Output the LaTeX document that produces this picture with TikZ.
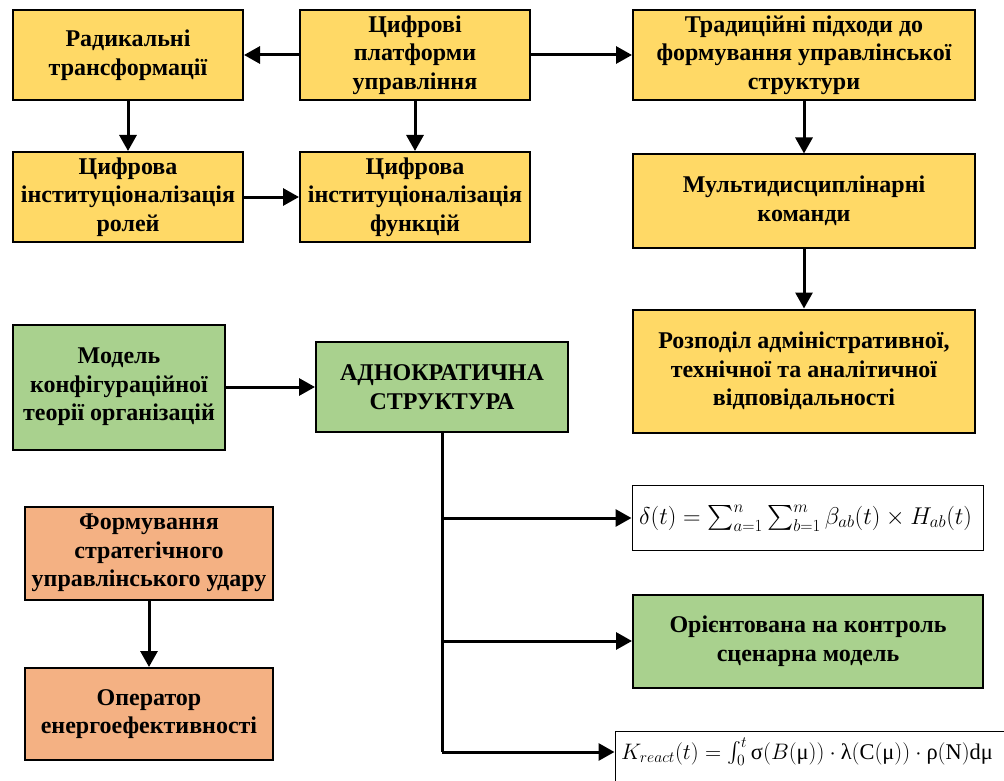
\RequirePackage{fix-cm}
\documentclass[tikz,border=0pt]{standalone}
\usepackage{amsmath}
\usepackage{fontspec}
\setmainfont{Liberation Serif}
\usetikzlibrary{arrows.meta}
\definecolor{ybox}{HTML}{FFD966}
\definecolor{gbox}{HTML}{A9D18E}
\definecolor{obox}{HTML}{F4B183}
\tikzset{
  boxbase/.style={draw=black, line width=2pt, align=center, inner sep=2pt,
    font=\fontsize{24}{28.5}\selectfont\bfseries},
  yb/.style={boxbase, fill=ybox},
  gb/.style={boxbase, fill=gbox},
  ob/.style={boxbase, fill=obox},
  fb/.style={draw=black, line width=1pt, fill=white, inner sep=0pt},
  conn/.style={line width=3pt, -{Triangle[length=16pt,width=17pt]}},
  plain/.style={line width=3pt}
}
\begin{document}
\begin{tikzpicture}[x=1pt,y=-1pt]
\useasboundingbox (0,0) rectangle (1004,781);
\node[yb, minimum width=230pt, minimum height=90pt] (rad) at (128,55) {Радикальні\\трансформації};
\node[yb, minimum width=230pt, minimum height=90pt] (cp) at (415,55) {Цифрові\\платформи\\управління};
\node[yb, minimum width=342pt, minimum height=90pt] (trad) at (804,55) {Традиційні підходи до\\формування управлінської\\структури};
\node[yb, minimum width=230pt, minimum height=90pt] (rol) at (128,197) {Цифрова\\інституціоналізація\\ролей};
\node[yb, minimum width=230pt, minimum height=90pt] (fun) at (415,197) {Цифрова\\інституціоналізація\\функцій};
\node[yb, minimum width=342pt, minimum height=93pt] (mult) at (804,201) {Мультидисциплінарні\\команди};
\node[yb, minimum width=342pt, minimum height=123pt] (roz) at (804,371) {Розподіл адміністративної,\\технічної та аналітичної\\відповідальності};
\node[gb, minimum width=212pt, minimum height=125pt] (mod) at (119,387) {Модель\\конфігураційної\\теорії організацій};
\node[gb, minimum width=252pt, minimum height=90pt] (adn) at (442,387) {АДНОКРАТИЧНА\\СТРУКТУРА};
\node[ob, minimum width=248pt, minimum height=93pt] (form) at (149,553) {Формування\\стратегічного\\управлінського удару};
\node[ob, minimum width=248pt, minimum height=92pt] (oper) at (149,714) {Оператор\\енергоефективності};
\node[gb, minimum width=350pt, minimum height=93pt] (orie) at (808,641) {Орієнтована на контроль\\сценарна модель};
\node[fb, minimum width=351pt, minimum height=65pt] (f1) at (807.5,517.5) {};
\node[anchor=west, inner sep=0pt, font=\fontsize{24.3}{28}\selectfont] (f1t) at (639,518)
  {$\delta(t)=\sum_{a=1}^{n}\sum_{b=1}^{m}\beta_{ab}(t)\times H_{ab}(t)$};
\node[fb, minimum width=400pt, minimum height=70pt] (f2) at (815,766) {};
\node[anchor=west, inner sep=0pt, font=\fontsize{22.4}{26}\selectfont] (f2t) at (621,752)
  {$K_{react}(t)=\int_0^t \textnormal{σ}(B(\textnormal{μ}))\cdot\textnormal{λ}(\textnormal{C}(\textnormal{μ}))\cdot\textnormal{ρ}(\textnormal{N})\textnormal{dμ}$};
\coordinate (j1) at (442,518);
\coordinate (j2) at (442,641);
\coordinate (j3) at (442,752);
\draw[conn] (cp) -- (rad);
\draw[conn] (cp) -- (trad);
\draw[conn] (rad) -- (rol);
\draw[conn] (cp) -- (fun);
\draw[conn] (rol) -- (fun);
\draw[conn] (trad) -- (mult);
\draw[conn] (mult) -- (roz);
\draw[conn] (mod) -- (adn);
\draw[conn] (form) -- (oper);
\draw[plain] (adn.south) -- (j3);
\draw[conn] (j1) -- (f1.west |- j1);
\draw[conn] (j2) -- (orie.west |- j2);
\draw[conn] (j3) -- (f2.west |- j3);
\end{tikzpicture}
\end{document}
